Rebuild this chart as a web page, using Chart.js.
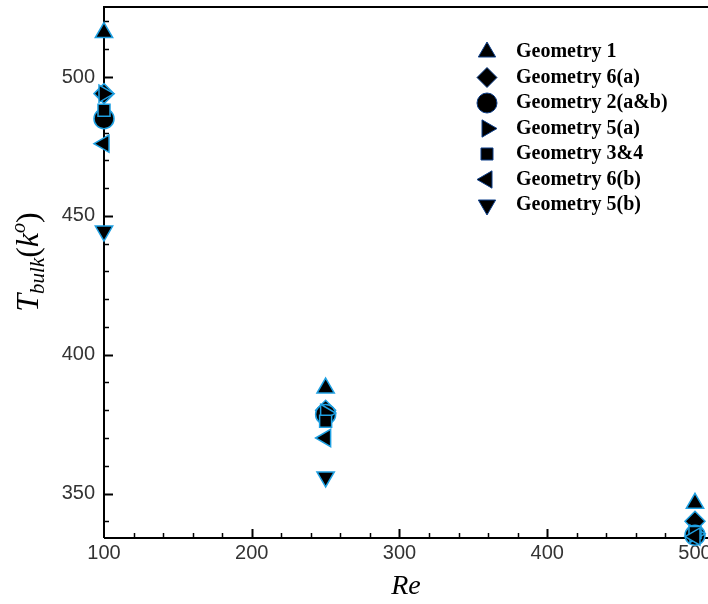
<!DOCTYPE html>
<html>
<head>
<meta charset="utf-8">
<title>T_bulk vs Re</title>
<script src="https://cdn.jsdelivr.net/npm/chart.js@4.4.0/dist/chart.umd.min.js"></script>
<style>
  html, body { margin: 0; padding: 0; background: #fff; }
  #wrap { width: 708px; height: 604px; }
</style>
</head>
<body>
<div id="wrap"><canvas id="chart" width="708" height="604"></canvas></div>
<script>
// Data
const reValues = [100, 250, 500];
const geometryNames = ['Geometry 1', 'Geometry 6(a)', 'Geometry 2(a&b)', 'Geometry 5(a)', 'Geometry 3&4', 'Geometry 6(b)', 'Geometry 5(b)'];
const geo1 = [516, 388, 346.5];
const geo6a = [494, 380, 340];
const geo2 = [485, 378.5, 335];
const geo5a = [494, 379, 335.5];
const geo34 = [488, 376, 336];
const geo6b = [476, 370, 334.5];
const geo5b = [444.5, 356, null];
const xTicks = [100, 200, 300, 400, 500];
const yTicks = [350, 400, 450, 500];

const seriesValues = [geo1, geo6a, geo2, geo5a, geo34, geo6b, geo5b];

// Marker look for each geometry (same order as the names)
const markerStyles = [
  { pointStyle: 'triangle', rotation: 0, radius: 10 },
  { pointStyle: 'rectRot', rotation: 0, radius: 10 },
  { pointStyle: 'circle', rotation: 0, radius: 10 },
  { pointStyle: 'triangle', rotation: 90, radius: 10 },
  { pointStyle: 'rect', rotation: 0, radius: 8.5 },
  { pointStyle: 'triangle', rotation: 270, radius: 10 },
  { pointStyle: 'triangle', rotation: 180, radius: 10 }
];

const FILL = '#000000';
const EDGE = '#1fa0e2';

const datasets = geometryNames.map((name, i) => ({
  label: name,
  data: reValues.map((re, j) => ({ x: re, y: seriesValues[i][j] })),
  pointStyle: markerStyles[i].pointStyle,
  rotation: markerStyles[i].rotation,
  pointRadius: markerStyles[i].radius,
  pointHoverRadius: markerStyles[i].radius,
  backgroundColor: FILL,
  borderColor: EDGE,
  borderWidth: 1.5,
  clip: false,
  // later geometries drawn on top
  order: geometryNames.length - i
}));

// Frame and inward ticks
const frameAndTicks = {
  id: 'frameAndTicks',
  beforeDatasetsDraw(chart) {
    const { ctx, chartArea: a, scales: { x, y } } = chart;
    ctx.save();
    ctx.strokeStyle = '#000';
    ctx.lineWidth = 2;
    ctx.beginPath();
    ctx.moveTo(a.left, a.bottom);
    ctx.lineTo(a.left, a.top);
    ctx.lineTo(a.right, a.top);
    ctx.moveTo(a.left, a.bottom);
    ctx.lineTo(a.right, a.bottom);
    ctx.stroke();

    // y ticks every 10, major every 50
    for (let v = 340; v <= 520; v += 10) {
      const py = Math.round(y.getPixelForValue(v)) + 0.5;
      const major = v % 50 === 0;
      ctx.lineWidth = major ? 2 : 1.5;
      ctx.beginPath();
      ctx.moveTo(a.left, py);
      ctx.lineTo(a.left + (major ? 9 : 5), py);
      ctx.stroke();
    }
    // x ticks every 20, major every 100
    for (let v = 120; v <= 500; v += 20) {
      const px = Math.round(x.getPixelForValue(v)) + 0.5;
      const major = v % 100 === 0;
      ctx.lineWidth = major ? 2 : 1.5;
      ctx.beginPath();
      ctx.moveTo(px, a.bottom);
      ctx.lineTo(px, a.bottom - (major ? 9 : 5));
      ctx.stroke();
    }
    ctx.restore();
  }
};

// Axis titles with sub/superscripts
const axisTitles = {
  id: 'axisTitles',
  afterDraw(chart) {
    const { ctx, chartArea: a } = chart;
    ctx.save();
    ctx.fillStyle = '#000';
    ctx.textBaseline = 'alphabetic';
    ctx.textAlign = 'left';

    // x title
    ctx.font = 'italic 28px "Liberation Serif"';
    const reW = ctx.measureText('Re').width;
    ctx.fillText('Re', (a.left + a.right) / 2 - reW / 2, 594);

    // y title: T_bulk(k^o)
    const parts = [
      { t: 'T', font: 'italic 32px "Liberation Serif"', dy: 0 },
      { t: 'bulk', font: 'italic 21px "Liberation Serif"', dy: 6 },
      { t: '(', font: '32px "Liberation Serif"', dy: 0 },
      { t: 'k', font: 'italic 32px "Liberation Serif"', dy: 0 },
      { t: 'o', font: 'italic 20px "Liberation Serif"', dy: -13 },
      { t: ')', font: '32px "Liberation Serif"', dy: 0 }
    ];
    let total = 0;
    parts.forEach(p => { ctx.font = p.font; p.w = ctx.measureText(p.t).width; total += p.w; });
    ctx.translate(38, 262);
    ctx.rotate(-Math.PI / 2);
    let cx = -total / 2;
    parts.forEach(p => {
      ctx.font = p.font;
      ctx.fillText(p.t, cx, p.dy);
      cx += p.w;
    });
    ctx.restore();
  }
};

// Legend drawn inside the plot, top right
const insideLegend = {
  id: 'insideLegend',
  afterDraw(chart) {
    const { ctx } = chart;
    const markX = 487;
    const textX = 516;
    const top = 52;
    const rowH = 25.5;
    ctx.save();
    chart.data.datasets.forEach((ds, i) => {
      const y = top + i * rowH;
      ctx.fillStyle = '#000';
      ctx.strokeStyle = '#0d3f8a';
      ctx.lineWidth = 1;
      Chart.helpers.drawPoint(ctx, {
        pointStyle: ds.pointStyle,
        rotation: ds.rotation,
        radius: ds.pointRadius,
        borderWidth: 1
      }, markX, y);
      ctx.font = 'bold 20px "Liberation Serif"';
      ctx.textBaseline = 'middle';
      ctx.textAlign = 'left';
      ctx.fillStyle = '#000';
      ctx.fillText(ds.label, textX, y);
    });
    ctx.restore();
  }
};

new Chart(document.getElementById('chart'), {
  type: 'scatter',
  data: { datasets: datasets },
  options: {
    responsive: false,
    animation: false,
    devicePixelRatio: 1,
    layout: { autoPadding: false, padding: { top: 7, right: 0, left: 0, bottom: 0 } },
    plugins: {
      legend: { display: false },
      tooltip: { enabled: false }
    },
    scales: {
      x: {
        type: 'linear',
        min: 100,
        max: 508.8,
        afterFit(scale) {
          scale.height = 66;
          scale.paddingLeft = 0;
          scale.paddingRight = 0;
        },
        afterBuildTicks(scale) { scale.ticks = xTicks.map(v => ({ value: v })); },
        grid: { display: false, drawTicks: false },
        border: { display: false },
        ticks: {
          padding: 3,
          color: '#333',
          font: { family: '"Liberation Sans"', size: 20 }
        }
      },
      y: {
        type: 'linear',
        min: 334,
        max: 525.2,
        afterFit(scale) {
          scale.width = 104;
          scale.paddingTop = 0;
          scale.paddingBottom = 0;
        },
        afterBuildTicks(scale) { scale.ticks = yTicks.map(v => ({ value: v })); },
        grid: { display: false, drawTicks: false },
        border: { display: false },
        ticks: {
          padding: 9,
          color: '#333',
          font: { family: '"Liberation Sans"', size: 20 }
        }
      }
    }
  },
  plugins: [frameAndTicks, axisTitles, insideLegend]
});
</script>
</body>
</html>
